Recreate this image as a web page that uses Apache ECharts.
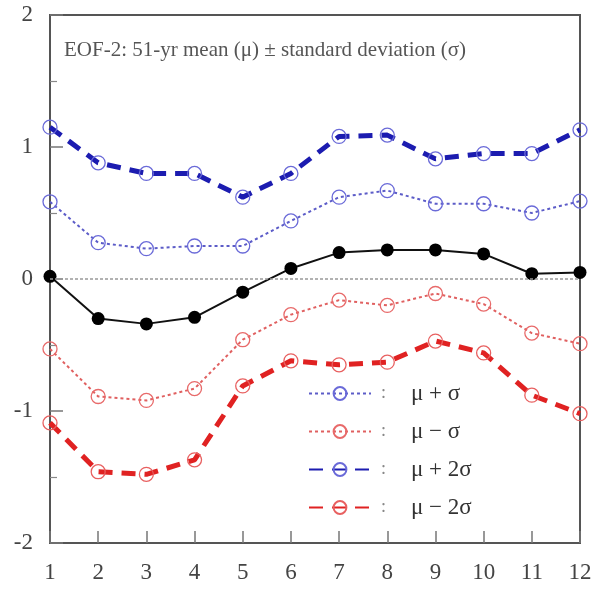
<!DOCTYPE html>
<html>
<head>
<meta charset="utf-8">
<script src="https://cdn.jsdelivr.net/npm/echarts@6/dist/echarts.min.js"></script>
<style>html,body{margin:0;padding:0;background:#fff}#c{width:609px;height:591px}</style>
</head>
<body>
<div id="c"></div>
<script>
var months = ['1','2','3','4','5','6','7','8','9','10','11','12'];
var yTicks = [-2, -1, 0, 1, 2];
var meanVals = [0.02, -0.30, -0.34, -0.29, -0.10, 0.08, 0.20, 0.22, 0.22, 0.19, 0.04, 0.05];
var plus1 = [0.585, 0.275, 0.23, 0.25, 0.25, 0.44, 0.62, 0.67, 0.57, 0.57, 0.50, 0.59];
var minus1 = [-0.53, -0.89, -0.92, -0.83, -0.46, -0.27, -0.16, -0.20, -0.11, -0.19, -0.41, -0.49];
var plus2 = [1.15, 0.88, 0.80, 0.80, 0.62, 0.80, 1.08, 1.09, 0.91, 0.95, 0.95, 1.13];
var minus2 = [-1.09, -1.46, -1.48, -1.37, -0.81, -0.62, -0.65, -0.63, -0.47, -0.56, -0.88, -1.02];
var names = ['μ + σ', 'μ − σ', 'μ + 2σ', 'μ − 2σ'];
var titleText = 'EOF-2: 51-yr mean (μ) ± standard deviation (σ)';

var serif = 'Liberation Serif';
function sband(name, data, lineColor, circColor, width, dash) {
  return {
    name: name, type: 'line', data: data,
    symbol: 'circle', symbolSize: 14,
    itemStyle: { color: 'rgba(255,255,255,0)', borderColor: circColor, borderWidth: 1.3 },
    lineStyle: { color: lineColor, width: width, type: dash },
    z: 3
  };
}
var chart = echarts.init(document.getElementById('c'));
chart.setOption({
  animation: false,
  backgroundColor: '#fff',
  title: {
    text: titleText, left: 59, top: 35,
    textStyle: { fontFamily: serif, fontSize: 21, fontWeight: 'normal', color: '#555' }
  },
  grid: { left: 50, right: 29, top: 15, bottom: 48, show: true, borderColor: '#555', borderWidth: 2, backgroundColor: 'transparent' },
  legend: {
    data: names, orient: 'vertical', left: 303, top: 377,
    itemWidth: 62, itemHeight: 16, itemGap: 15,
    formatter: function (n) { return '{c|:}{t|' + n + '}'; },
    textStyle: {
      fontFamily: serif, fontSize: 23, color: '#333', lineHeight: 22,
      rich: { c: { width: 30, align: 'left', padding: [0, 0, 0, 5], fontSize: 18, color: '#888', fontFamily: serif }, t: { fontFamily: serif, fontSize: 23, color: '#333' } }
    }
  },
  xAxis: {
    type: 'category', data: months, boundaryGap: false,
    axisLine: { onZero: false, lineStyle: { color: '#555', width: 2 } },
    axisTick: { inside: true, length: 12, lineStyle: { color: '#777', width: 1.5 } },
    axisLabel: { fontFamily: serif, fontSize: 23, color: '#444', margin: 18 },
    splitLine: { show: false }
  },
  yAxis: {
    type: 'value', min: yTicks[0], max: yTicks[yTicks.length - 1], interval: 1,
    axisLine: { show: true, onZero: false, lineStyle: { color: '#555', width: 2 } },
    axisTick: { show: true, inside: true, length: 13, lineStyle: { color: '#777', width: 1.5 } },
    minorTick: { show: true, splitNumber: 2, length: 7, lineStyle: { color: '#888', width: 1.2 } },
    axisLabel: { fontFamily: serif, fontSize: 23, color: '#444', margin: 17 },
    splitLine: { show: false }
  },
  series: [
    sband(names[0], plus1, '#5c5cc8', '#6a6ad8', 2, [3, 3]),
    sband(names[1], minus1, '#e06060', '#e86a6a', 2, [3, 3]),
    sband(names[2], plus2, '#1c1cb0', '#6a6ad8', 5, [14, 9]),
    sband(names[3], minus2, '#e02222', '#e86060', 5, [14, 9]),
    {
      name: 'mean', type: 'line', data: meanVals,
      symbol: 'circle', symbolSize: 13,
      itemStyle: { color: '#000' },
      lineStyle: { color: '#111', width: 2 },
      z: 4,
      markLine: {
        silent: true, symbol: 'none', label: { show: false },
        lineStyle: { color: '#999', type: [3, 2], width: 1.5 },
        data: [{ yAxis: 0 }]
      }
    }
  ]
});
</script>
</body>
</html>
